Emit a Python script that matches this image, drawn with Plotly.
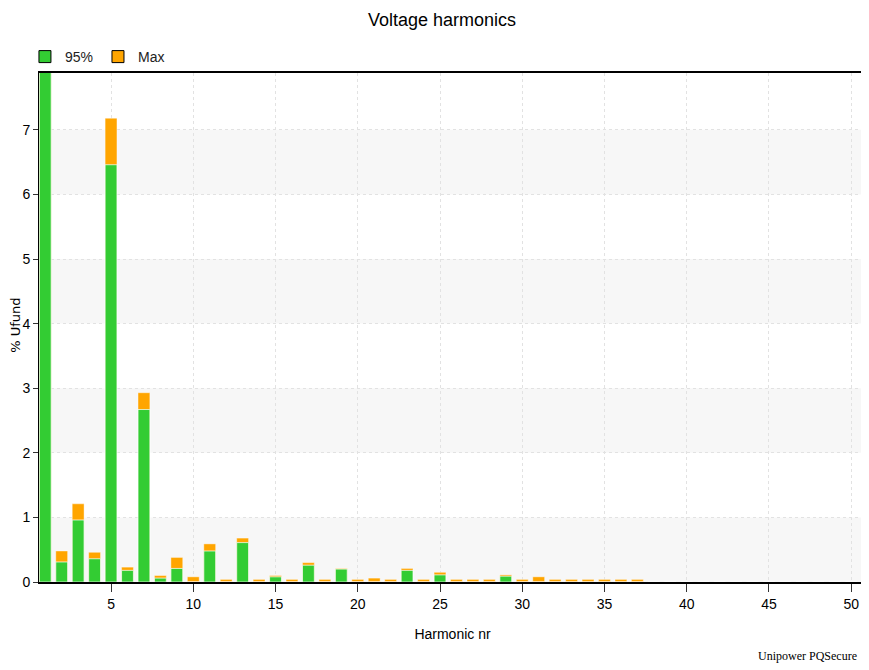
import plotly.graph_objects as go

harmonics = list(range(1, 51))
pct95 = [100, 0.31, 0.96, 0.36, 6.46, 0.18, 2.67, 0.06, 0.21, 0.0,
         0.48, 0.0, 0.61, 0.0, 0.08, 0.0, 0.26, 0.0, 0.20, 0.0,
         0.0, 0.0, 0.18, 0.0, 0.11, 0.0, 0.0, 0.0, 0.09, 0.0,
         0.0, 0.0, 0.0, 0.0, 0.0, 0.0, 0.0, 0.0, 0.0, 0.0,
         0.0, 0.0, 0.0, 0.0, 0.0, 0.0, 0.0, 0.0, 0.0, 0.0]
pctmax = [100, 0.48, 1.21, 0.46, 7.18, 0.23, 2.93, 0.10, 0.38, 0.08,
          0.59, 0.04, 0.68, 0.04, 0.10, 0.04, 0.30, 0.04, 0.21, 0.04,
          0.06, 0.04, 0.21, 0.04, 0.15, 0.04, 0.04, 0.04, 0.11, 0.04,
          0.08, 0.04, 0.04, 0.04, 0.04, 0.04, 0.04, None, None, None,
          None, None, None, None, None, None, None, None, None, None]
x_ticks = [5, 10, 15, 20, 25, 30, 35, 40, 45, 50]
y_ticks = [0, 1, 2, 3, 4, 5, 6, 7]
bands = [(0, 1), (2, 3), (4, 5), (6, 7)]

GREEN = "#33CC33"
ORANGE = "#FFA500"
FONT = "Liberation Sans Narrow, Arial Narrow, Liberation Sans, Arial"

fig = go.Figure()
fig.add_trace(go.Bar(x=harmonics, y=pctmax, name="Max",
                     marker=dict(color=ORANGE, line=dict(color="rgba(255,255,255,0.8)", width=0.5)),
                     width=0.72, showlegend=False))
fig.add_trace(go.Bar(x=harmonics, y=pct95, name="95%",
                     marker=dict(color=GREEN, line=dict(color="rgba(255,255,255,0.9)", width=0.8)),
                     width=0.72, showlegend=False))
# legend entries
fig.add_trace(go.Bar(x=[None], y=[None], name="95%", marker=dict(color=GREEN, line=dict(color="black", width=1))))
fig.add_trace(go.Bar(x=[None], y=[None], name="Max", marker=dict(color=ORANGE, line=dict(color="black", width=1))))

shapes = []
for y0, y1 in bands:
    shapes.append(dict(type="rect", xref="paper", yref="y", x0=0, x1=1, y0=y0, y1=y1,
                       fillcolor="#f7f7f7", line=dict(width=0), layer="below"))

fig.update_layout(
    width=861, height=662,
    margin=dict(l=31, r=3, t=65, b=88, autoexpand=False),
    barmode="overlay",
    plot_bgcolor="white", paper_bgcolor="white",
    shapes=shapes,
    title=dict(text="Voltage harmonics", x=0.504, xanchor="center", y=0.982, yanchor="middle",
               font=dict(family=FONT, size=18, color="black")),
    legend=dict(orientation="h", x=-0.017, xanchor="left", y=1.0, yanchor="bottom",
                font=dict(family=FONT, size=14, color="#222"), traceorder="normal",
                itemwidth=30, bgcolor="rgba(0,0,0,0)"),
    font=dict(family=FONT, size=14, color="black"),
    xaxis=dict(range=[0.62, 50.9], tickvals=x_ticks, ticks="outside", ticklen=8, tickcolor="#333",
               showline=True, linecolor="black", linewidth=2, mirror=True, automargin=False,
               showgrid=True, gridcolor="#e2e2e2", griddash="dot", gridwidth=1,
               zeroline=False, tickfont=dict(family=FONT, size=14),
               title=dict(text="Harmonic nr", font=dict(family=FONT, size=14), standoff=18)),
    yaxis=dict(range=[0, 7.88], tickvals=y_ticks, ticks="outside", ticklen=5, tickcolor="#333",
               showline=True, linecolor="black", linewidth=1, automargin=False,
               showgrid=True, gridcolor="#e2e2e2", griddash="dot", gridwidth=1,
               zeroline=False, tickfont=dict(family=FONT, size=14)),
    annotations=[
        dict(text="Unipower PQSecure", xref="paper", yref="paper", x=0.991, y=-0.145,
             xanchor="right", yanchor="middle", showarrow=False,
             font=dict(family="Liberation Serif, Times New Roman", size=12, color="black")),
        dict(text="% Ufund", xref="paper", yref="paper", x=-0.028, y=0.505, textangle=-90,
             xanchor="center", yanchor="middle", showarrow=False,
             font=dict(family="DejaVu Sans, Verdana", size=13, color="black")),
    ],
)

fig.write_html("out.html")
